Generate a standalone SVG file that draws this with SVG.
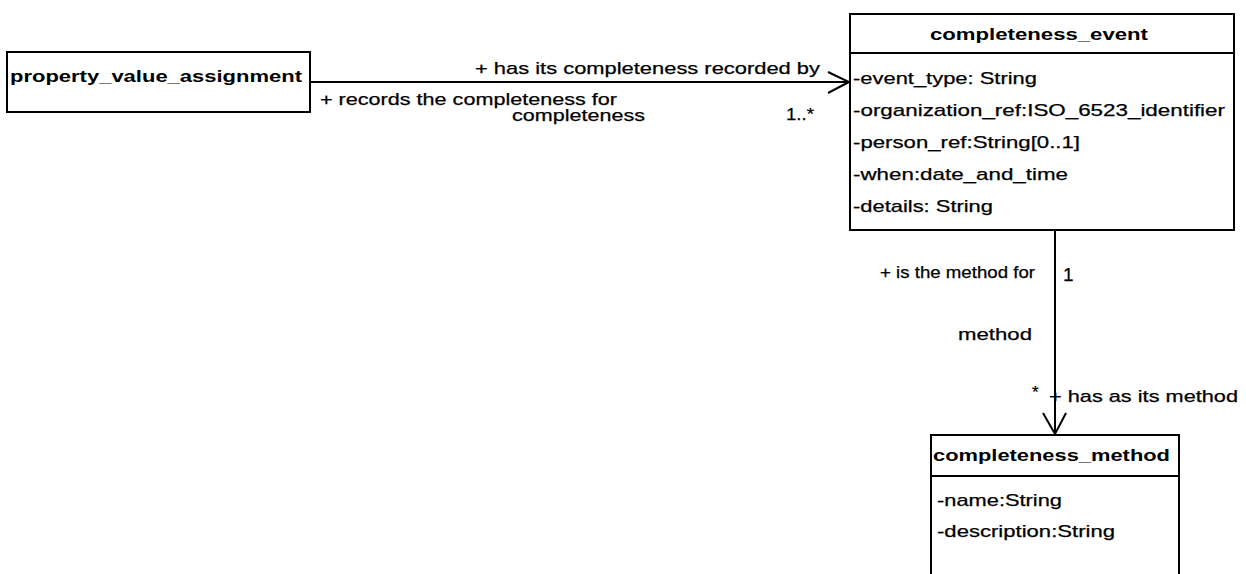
<svg xmlns="http://www.w3.org/2000/svg" width="1246" height="574" viewBox="0 0 1246 574">
<style>
.box{fill:#fff;stroke:#000;stroke-width:2}
.ln{fill:none;stroke:#000;stroke-width:2}
.t{font-family:"Liberation Sans",Arial,sans-serif;font-size:17px;fill:#000;stroke:#000;stroke-width:0.25}
.b{font-family:"Liberation Sans",Arial,sans-serif;font-size:17px;font-weight:bold;fill:#000}
</style>
<rect width="1246" height="574" fill="#fff"/>
<g id="connectors">
<line class="ln" x1="310" y1="82" x2="849" y2="82"/>
<polyline class="ln" points="828,72 849,82 828,93"/>
<line class="ln" x1="1055" y1="230" x2="1055" y2="434"/>
<polyline class="ln" points="1043,413 1055,434 1066,413"/>
<text class="t" x="475" y="74" textLength="345" lengthAdjust="spacingAndGlyphs">+ has its completeness recorded by</text>
<text class="t" x="320" y="105" textLength="297" lengthAdjust="spacingAndGlyphs">+ records the completeness for</text>
<text class="t" x="512" y="121" textLength="133" lengthAdjust="spacingAndGlyphs">completeness</text>
<text class="t" x="786" y="120" textLength="28" lengthAdjust="spacingAndGlyphs">1..*</text>
<text class="t" x="880" y="278" textLength="155" lengthAdjust="spacingAndGlyphs">+ is the method for</text>
<text class="t" x="1063" y="281" style="font-size:19px">1</text>
<text class="t" x="958" y="340" textLength="74" lengthAdjust="spacingAndGlyphs">method</text>
<text class="t" x="1032" y="398">*</text>
<text class="t" x="1049" y="402" textLength="189" lengthAdjust="spacingAndGlyphs">+ has as its method</text>
</g>
<g id="property_value_assignment">
<rect class="box" x="7" y="52" width="303" height="60"/>
<text class="b" x="10" y="82" textLength="292" lengthAdjust="spacingAndGlyphs">property_value_assignment</text>
</g>
<g id="completeness_event">
<rect class="box" x="850" y="14" width="384" height="216"/>
<line class="ln" x1="850" y1="53" x2="1234" y2="53"/>
<text class="b" x="930" y="40" textLength="218" lengthAdjust="spacingAndGlyphs">completeness_event</text>
<text class="t" x="853" y="84" textLength="184" lengthAdjust="spacingAndGlyphs">-event_type: String</text>
<text class="t" x="853" y="116" textLength="372" lengthAdjust="spacingAndGlyphs">-organization_ref:ISO_6523_identifier</text>
<text class="t" x="853" y="148" textLength="227" lengthAdjust="spacingAndGlyphs">-person_ref:String[0..1]</text>
<text class="t" x="853" y="180" textLength="215" lengthAdjust="spacingAndGlyphs">-when:date_and_time</text>
<text class="t" x="853" y="212" textLength="140" lengthAdjust="spacingAndGlyphs">-details: String</text>
</g>
<g id="completeness_method">
<rect class="box" x="931" y="435" width="248" height="150"/>
<line class="ln" x1="931" y1="476" x2="1179" y2="476"/>
<text class="b" x="933" y="461" textLength="237" lengthAdjust="spacingAndGlyphs">completeness_method</text>
<text class="t" x="937" y="506" textLength="125" lengthAdjust="spacingAndGlyphs">-name:String</text>
<text class="t" x="937" y="537" textLength="178" lengthAdjust="spacingAndGlyphs">-description:String</text>
</g>
</svg>
